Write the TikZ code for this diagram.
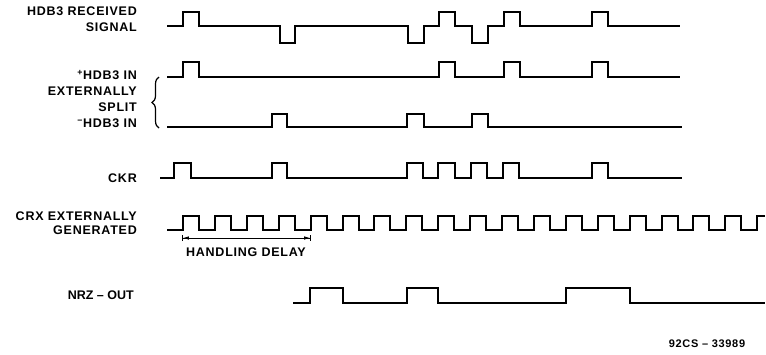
\documentclass[tikz,border=0pt]{standalone}
\usepackage{fontspec}
\setmainfont{Liberation Sans}
\newfontfamily\drafting[LetterSpace=6]{Liberation Sans}
\usepackage{tikz}
\usetikzlibrary{positioning, arrows.meta, decorations.pathreplacing}

\begin{document}
\begin{tikzpicture}[
        x=1pt, y=-1pt,
        lbl/.style={
            align=right,
            anchor=east,
            inner sep=0pt,
            font=\drafting\bfseries\fontsize{12.5}{15.5}\selectfont
        },
        wave/.style={
            line width=2pt,
            line join=miter,
            black
        },
        dim/.style={
            {Bar[width=6pt]Latex[length=6pt,width=3.5pt]}-{Latex[length=6pt,width=3.5pt]Bar[width=6pt]},
            line width=0.8pt
        }
    ]
        \useasboundingbox (0,0) rectangle (766,354);

        % signal names
        \node [lbl] (rx) at (137,19) {HDB3 RECEIVED\\SIGNAL};
        \node [lbl, font=\drafting\bfseries\fontsize{12.5}{16}\selectfont] (split) at (137,99) {\textsuperscript{+}HDB3 IN\\EXTERNALLY\\SPLIT\\\textsuperscript{−}HDB3 IN};
        \node [lbl] (ckr) at (137,178) {CKR};
        \node [lbl, font=\drafting\bfseries\fontsize{12.5}{14}\selectfont] (crx) at (137,223) {CRX EXTERNALLY\\GENERATED};
        \node [lbl, font=\bfseries\fontsize{12.5}{15}\selectfont] (nrz) at (134,295) {NRZ – OUT};

        % brace for the split pair
        \coordinate (brlo) at (159,128);
        \coordinate (brhi) at (159,77);
        \draw [decorate, decoration={brace, amplitude=7pt}, line width=1.2pt] (brlo) -- (brhi);

        % HDB3 received
        \draw [wave] (167,26) -| (183,12) -| (199,26) -| (280,43) -| (295,26)
            -| (408,43) -| (424,26) -| (439,12) -| (455,26) -| (472,43) -| (488,26)
            -| (504,12) -| (520,26) -| (592,12) -| (608,26) -- (680,26);
        % +HDB3
        \draw [wave] (167,77) -| (183,62) -| (199,77) -| (439,62) -| (455,77)
            -| (504,62) -| (520,77) -| (592,62) -| (608,77) -- (680,77);
        % -HDB3
        \draw [wave] (167,127) -| (272,114) -| (287,127) -| (407,114) -| (424,127)
            -| (472,114) -| (488,127) -- (682,127);
        % CKR
        \draw [wave] (160,178) -| (174,163) -| (191,178) -| (272,163) -| (287,178)
            -| (407,163) -| (423,178) -| (438,163) -| (455,178) -| (471,163) -| (487,178)
            -| (503,163) -| (519,178) -| (592,163) -| (608,178) -- (682,178);
        % CRX clock
        \draw [wave] (167,230) foreach \k in {0,...,17} {
                -| ({183+31.9*\k},216) -| ({199+31.9*\k},230)
            } -| (757,216) -- (765,216);
        % NRZ out
        \draw [wave] (293,303) -| (310,288) -| (343,303) -| (407,288) -| (438,303)
            -| (566,288) -| (630,303) -- (765,303);

        % handling delay
        \coordinate (hdl) at (182,238);
        \coordinate (hdr) at (311,238);
        \draw [dim] (hdl) -- (hdr);
        \node [lbl, anchor=center] (hd) at (246,252) {HANDLING DELAY};

        \node [lbl, anchor=center, font=\drafting\bfseries\fontsize{11}{14}\selectfont] (fig) at (707,344) {92CS – 33989};
    \end{tikzpicture}
\end{document}
